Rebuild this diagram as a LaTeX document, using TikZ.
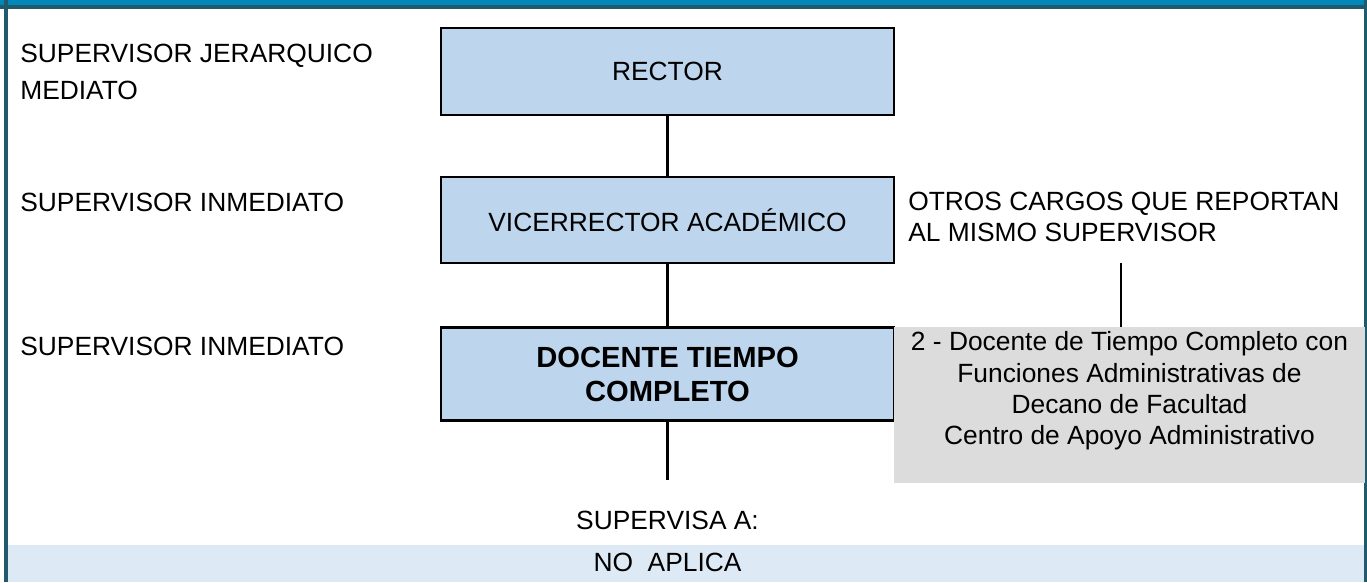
\documentclass[tikz,border=0pt]{standalone}
\usepackage{fontspec}
\setmainfont{Liberation Sans}
\usepackage{xcolor}
\usepackage{tikz}
\usetikzlibrary{positioning}
\definecolor{barA}{HTML}{0088BB}
\definecolor{bordeT}{HTML}{215A6B}
\definecolor{cajaA}{HTML}{BDD5ED}
\definecolor{grisC}{HTML}{DCDCDC}
\definecolor{fondoB}{HTML}{DDE9F5}

\begin{document}
\begin{tikzpicture}[x=0.02cm, y=-0.02cm, font=\fontsize{15}{18}\selectfont,
  cargo/.style={draw=black, line width=1.3pt, fill=cajaA, minimum width=9.06cm,
    inner sep=0pt, align=center},
  nivel/.style={anchor=west, inner sep=0pt, align=left},
  enlace/.style={draw=black, line width=1.2pt}]
  \useasboundingbox (0,0) rectangle (1367,582);
  % marco
  \fill[barA] (0,0) rectangle (1364,5);
  \fill[bordeT] (0,5) rectangle (1364,9);
  \fill[bordeT] (4,0) rectangle (8,582);
  \fill[bordeT] (1364,0) rectangle (1367,582);
  \fill[fondoB] (8,545) rectangle (1364,582);
  % columna de niveles
  \node[nivel, font=\fontsize{15}{21}\selectfont] (lvlMed) at (20,71.5)
     {SUPERVISOR JERARQUICO\\MEDIATO};
  \node[nivel] (lvlInm) at (20,202) {SUPERVISOR INMEDIATO};
  \node[nivel] (lvlCar) at (20,346) {SUPERVISOR INMEDIATO};
  % cadena de cargos
  \node[cargo, minimum height=1.74cm] (rector) at (667.5,71.5) {RECTOR};
  \node[cargo, minimum height=1.72cm] (vice) at (667.5,220) {VICERRECTOR ACADÉMICO};
  \node[cargo, minimum height=1.86cm, font=\fontsize{16.6}{19.4}\selectfont\bfseries]
     (docente) at (667.5,374) {DOCENTE TIEMPO\\COMPLETO};
  \coordinate (finS) at (667.5,480);
  \draw[enlace] (rector) -- (vice);
  \draw[enlace] (vice) -- (docente);
  \draw[enlace] (docente) -- (finS);
  % otros cargos
  \node[nivel, font=\fontsize{15}{17.4}\selectfont] (otros) at (908,217)
     {OTROS CARGOS QUE REPORTAN\\AL MISMO SUPERVISOR};
  \node[fill=grisC, minimum width=9.42cm, minimum height=3.12cm, inner sep=0pt,
     anchor=north west] (pares) at (894,327) {};
  \node[align=center, inner sep=0pt, font=\fontsize{15}{17.8}\selectfont]
     (paresTxt) at (1129.5,391)
     {2 - Docente de Tiempo Completo con\\Funciones Administrativas de\\
      Decano de Facultad\\Centro de Apoyo Administrativo};
  \coordinate (otrosA) at (1121,263);
  \draw[enlace] (otrosA) -- (otrosA |- pares.north);
  % supervisa
  \node[inner sep=0pt] (supA) at (667.5,520) {SUPERVISA A:};
  \node[inner sep=0pt] (noAp) at (667.5,562) {NO~\ APLICA};
\end{tikzpicture}
\end{document}
